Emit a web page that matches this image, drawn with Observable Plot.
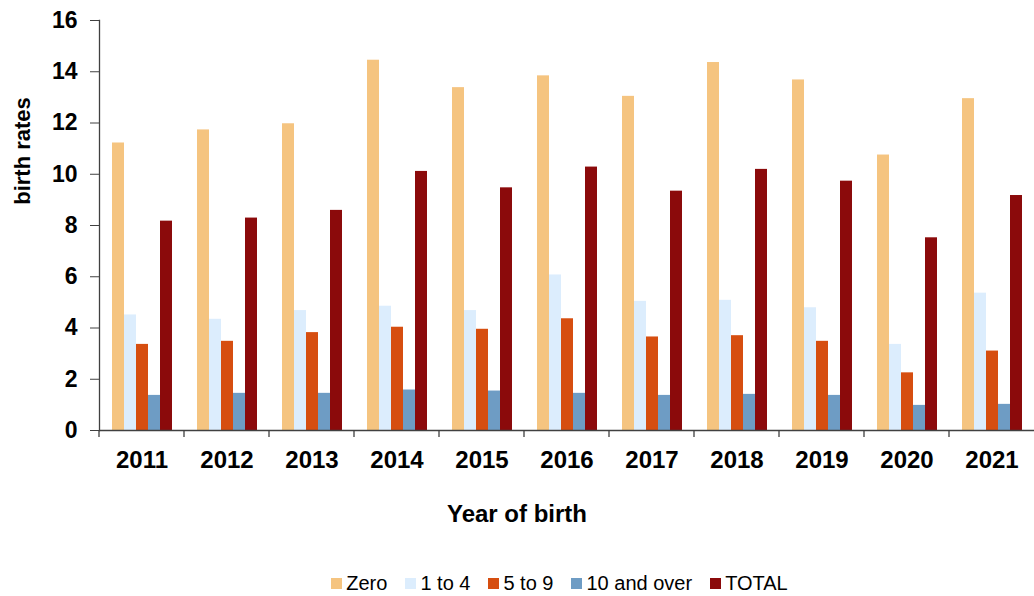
<!DOCTYPE html>
<html><head><meta charset="utf-8">
<script src="https://cdn.jsdelivr.net/npm/d3@7"></script>
<script src="https://cdn.jsdelivr.net/npm/@observablehq/plot@0.6"></script>
<style>
html,body{margin:0;padding:0;background:#fff;overflow:hidden}
#wrap{position:relative;width:1034px;height:596px;font-family:Arial,"Liberation Sans",sans-serif;color:#000}
#chart{position:absolute;left:0;top:0}
#ylabel{position:absolute;left:23px;top:151px;transform:translate(-50%,-50%) rotate(-90deg);font-size:22px;font-weight:bold;white-space:nowrap;line-height:22px}
#xlabel{position:absolute;left:0;width:1034px;top:502px;text-align:center;font-size:24px;font-weight:bold;line-height:24px}
#legend{position:absolute;left:92px;width:935px;top:573px;display:flex;justify-content:center;font-size:20px;line-height:20px}
.item{display:flex;align-items:center;margin:0 9px}
.sw{width:11px;height:11px;margin-right:4px}
</style></head>
<body>
<div id="wrap">
  <div id="chart"></div>
  <div id="ylabel"></div>
  <div id="xlabel"></div>
  <div id="legend"></div>
</div>
<script>
const years = ["2011","2012","2013","2014","2015","2016","2017","2018","2019","2020","2021"];
const series = ["Zero","1 to 4","5 to 9","10 and over","TOTAL"];
const colors = ["#F5C480","#DCEDFD","#D64E10","#6E9CC4","#8B0A0B"];
const zero       = [11.22, 11.73, 11.97, 14.45, 13.38, 13.84, 13.04, 14.36, 13.68, 10.75, 12.95];
const oneToFour  = [4.51, 4.34, 4.68, 4.85, 4.68, 6.07, 5.04, 5.08, 4.79, 3.36, 5.36];
const fiveToNine = [3.36, 3.48, 3.82, 4.03, 3.95, 4.36, 3.65, 3.70, 3.48, 2.25, 3.10];
const tenPlus    = [1.37, 1.45, 1.45, 1.58, 1.54, 1.45, 1.37, 1.41, 1.37, 0.98, 1.02];
const total      = [8.17, 8.29, 8.59, 10.11, 9.47, 10.28, 9.34, 10.19, 9.73, 7.52, 9.17];
const yTicks = [0, 2, 4, 6, 8, 10, 12, 14, 16];
const yTitle = "birth rates";
const xTitle = "Year of birth";

const seriesValues = [zero, oneToFour, fiveToNine, tenPlus, total];
const rows = [];
years.forEach((yr, i) => series.forEach((s, j) => rows.push({year: yr, series: s, value: seriesValues[j][i]})));

const boundaryTicks = (index, scales) => {
  const x0 = Math.min(...scales.x.range());
  const y0 = scales.y(0);
  const line = document.createElementNS("http://www.w3.org/2000/svg", "line");
  line.setAttribute("x1", x0); line.setAttribute("x2", x0);
  line.setAttribute("y1", y0); line.setAttribute("y2", y0 + 7);
  line.setAttribute("stroke", "#404040");
  line.setAttribute("stroke-width", 1.3);
  return line;
};

const chart = Plot.plot({
  width: 1034,
  height: 480,
  marginTop: 20,
  marginBottom: 50,
  marginLeft: 99,
  marginRight: 0,
  style: {fontFamily: "Arial, 'Liberation Sans', sans-serif", color: "#000", background: "#fff", overflow: "visible"},
  fx: {domain: years, padding: 0, label: null},
  x: {domain: series, paddingInner: 0, paddingOuter: 0.77, axis: null},
  y: {domain: [0, 16], label: null},
  color: {domain: series, range: colors},
  marks: [
    Plot.barY(rows, {fx: "year", x: "series", y: "value", fill: "series"}),
    Plot.ruleY([0], {stroke: "#404040", strokeWidth: 1.3}),
    Plot.frame({anchor: "left", facetAnchor: "left", stroke: "#404040", strokeWidth: 1.3}),
    boundaryTicks,
    Plot.axisY({ticks: yTicks, tickSize: 9, tickPadding: 13, fontSize: 23, fontWeight: "bold", label: null, stroke: "#404040"}),
    Plot.axisFx({anchor: "bottom", tickSize: 0, tickPadding: 20, fontSize: 24, fontWeight: "bold", label: null})
  ]
});
document.getElementById("chart").appendChild(chart);
document.getElementById("ylabel").textContent = yTitle;
document.getElementById("xlabel").textContent = xTitle;
const legend = document.getElementById("legend");
series.forEach((s, j) => {
  const it = document.createElement("div"); it.className = "item";
  const sw = document.createElement("span"); sw.className = "sw"; sw.style.background = colors[j];
  const tx = document.createElement("span"); tx.textContent = s;
  it.appendChild(sw); it.appendChild(tx); legend.appendChild(it);
});
</script>
</body></html>
